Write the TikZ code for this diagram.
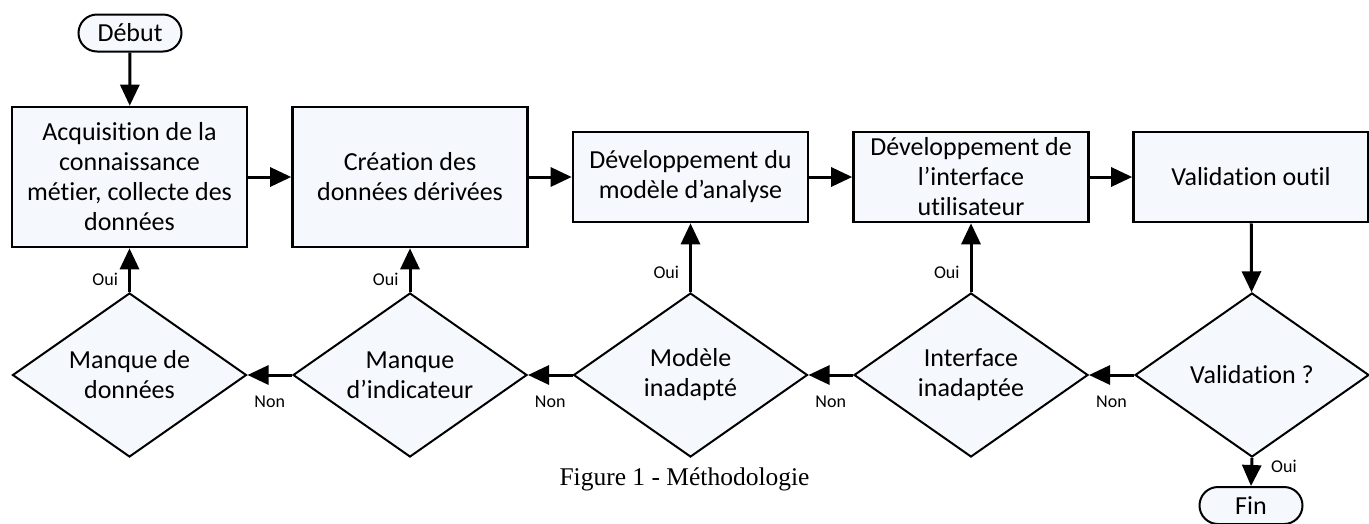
\documentclass[tikz,border=0pt]{standalone}
\usepackage{fontspec}
\setmainfont[Ligatures={NoCommon}]{Carlito}
\newfontfamily\capfont{Liberation Serif}
\usetikzlibrary{arrows.meta,shapes.geometric,shapes.misc}
\definecolor{shTop}{RGB}{245,249,253}
\definecolor{shBot}{RGB}{226,226,226}
\pgfdeclareverticalshading{boxshade}{100bp}{color(0bp)=(shBot); color(20bp)=(shTop); color(100bp)=(shTop)}
\tikzset{
  term/.style={rounded rectangle, draw, line width=2pt, shading=boxshade,
    minimum width=103, minimum height=37, inner sep=0pt},
  proc/.style={rectangle, draw, line width=2.6pt, shading=boxshade,
    minimum width=235, align=center, inner sep=0pt},
  dec/.style={diamond, draw, line width=2pt, shading=boxshade,
    minimum width=234, minimum height=164, inner sep=0pt, aspect=1.43, align=center},
  arr/.style={line width=3pt, -{Triangle[length=21pt,width=19pt]}},
  lbl/.style={font=\fontsize{18}{20}\selectfont, inner sep=0pt},
}
\begin{document}
\begin{tikzpicture}[x=1pt, y=-1pt, font=\fontsize{26}{30}\selectfont]
\useasboundingbox (0,0) rectangle (1369,523);
\node[term] (start) at (130,33) {Début};
\node[proc, minimum height=140] (b1) at (129.5,177) {Acquisition de la\\connaissance\\métier, collecte des\\données};
\node[proc, minimum height=140] (b2) at (410,177) {Création des\\données dérivées};
\node[proc, minimum height=90] (b3) at (690.5,177) {Développement du\\modèle d’analyse};
\node[proc, minimum height=90] (b4) at (971,177) {Développement de\\l’interface\\utilisateur};
\node[proc, minimum height=90] (b5) at (1251,177) {Validation outil};
\node[dec] (d1) at (129.5,375) {Manque de\\données};
\node[dec] (d2) at (410,375) {Manque\\d’indicateur};
\node[dec] (d3) at (690.5,375) {Modèle\\inadapté};
\node[dec] (d4) at (971,375) {Interface\\inadaptée};
\node[dec] (d5) at (1252,375) {Validation ?};
\node[term] (fin) at (1251,505.5) {Fin};
\node[font=\capfont\fontsize{25.5}{28}\selectfont, anchor=base] (cap) at (684.5,485) {Figure 1 - Méthodologie};
\draw[arr] (start) -- (b1);
\draw[arr] (b1) -- (b2);
\draw[arr] (b2) -- (b3);
\draw[arr] (b3) -- (b4);
\draw[arr] (b4) -- (b5);
\draw[arr] (b5) -- (d5);
\draw[arr] (d5.west) -- (d4.east) node[lbl, midway, yshift=-27pt] {Non};
\draw[arr] (d4.west) -- (d3.east) node[lbl, midway, yshift=-27pt] {Non};
\draw[arr] (d3.west) -- (d2.east) node[lbl, midway, yshift=-27pt] {Non};
\draw[arr] (d2.west) -- (d1.east) node[lbl, midway, yshift=-27pt] {Non};
\draw[arr] (d1.north) -- (b1.south) node[lbl, pos=0.28, anchor=east, xshift=-10pt] {Oui};
\draw[arr] (d2.north) -- (b2.south) node[lbl, pos=0.28, anchor=east, xshift=-10pt] {Oui};
\draw[arr] (d3.north) -- (b3.south) node[lbl, pos=0.28, anchor=east, xshift=-10pt] {Oui};
\draw[arr] (d4.north) -- (b4.south) node[lbl, pos=0.28, anchor=east, xshift=-10pt] {Oui};
\draw[arr] (d5.south) -- (fin.north) node[lbl, pos=0.3, anchor=west, xshift=18pt] {Oui};
\end{tikzpicture}
\end{document}
